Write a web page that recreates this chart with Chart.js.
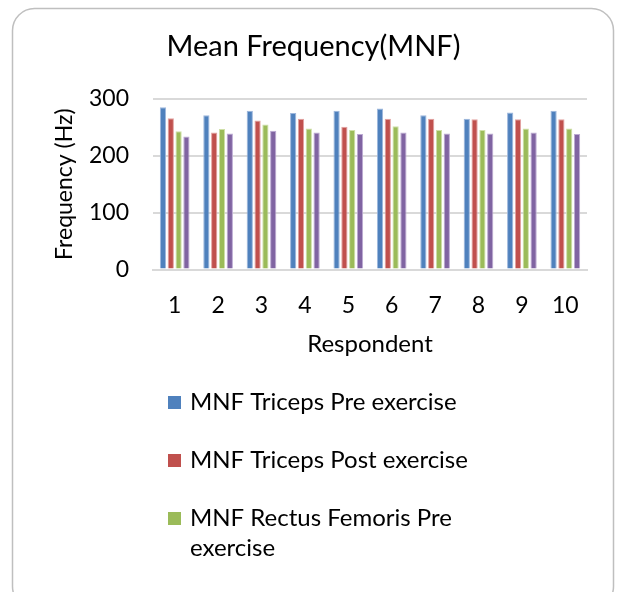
<!DOCTYPE html>
<html>
<head>
<meta charset="utf-8">
<script src="https://cdn.jsdelivr.net/npm/chart.js@4"></script>
<style>
  html, body { margin: 0; padding: 0; background: #fff; }
  #wrap { width: 619px; height: 592px; }
</style>
</head>
<body>
<div id="wrap"><canvas id="myChart" width="619" height="592"></canvas></div>
<script>
const respondents = ['1', '2', '3', '4', '5', '6', '7', '8', '9', '10'];
const tricepsPre = [285, 271, 279, 275, 279, 283, 271, 265, 276, 279];
const tricepsPost = [266, 241, 262, 265, 251, 265, 265, 264, 264, 264];
const rectusPre = [243, 247, 255, 248, 245, 252, 245, 245, 248, 248];
const rectusPost = [234, 239, 244, 241, 238, 241, 239, 239, 241, 238];
const yTicks = [0, 100, 200, 300];

const fontName = 'Lato, "Open Sans", sans-serif';

// rounded frame behind everything
const framePlugin = {
    id: 'frame',
    beforeDraw(chart) {
        const ctx = chart.ctx;
        ctx.save();
        ctx.fillStyle = '#fff';
        ctx.fillRect(0, 0, chart.width, chart.height);
        ctx.strokeStyle = '#bfbfbf';
        ctx.lineWidth = 1.5;
        ctx.beginPath();
        ctx.roundRect(12.5, 8.5, 601, 600, 22);
        ctx.stroke();
        ctx.restore();
    }
};

// legend under the chart, wraps long labels like the original
const legendPlugin = {
    id: 'wrapLegend',
    afterDraw(chart) {
        const ctx = chart.ctx;
        ctx.save();
        ctx.font = '24px ' + fontName;
        ctx.textBaseline = 'middle';
        let y = 402;
        const maxW = 300;
        chart.data.datasets.forEach(ds => {
            const words = ds.label.split(' ');
            const lines = [];
            let line = '';
            words.forEach(w => {
                const t = line ? line + ' ' + w : w;
                if (ctx.measureText(t).width > maxW && line) {
                    lines.push(line);
                    line = w;
                } else {
                    line = t;
                }
            });
            lines.push(line);
            ctx.fillStyle = ds.backgroundColor;
            ctx.fillRect(168, y - 6, 13, 13);
            ctx.fillStyle = '#000';
            lines.forEach((l, i) => ctx.fillText(l, 190, y + i * 30));
            y += 58 + (lines.length - 1) * 30;
        });
        ctx.restore();
    }
};

const ctx = document.getElementById('myChart').getContext('2d');
const myChart = new Chart(ctx, {
    type: 'bar',
    data: {
        labels: respondents,
        datasets: [
            { label: 'MNF Triceps Pre exercise', backgroundColor: '#4F81BD', borderColor: '#9db7dd', data: tricepsPre },
            { label: 'MNF Triceps Post exercise', backgroundColor: '#C0504D', borderColor: '#e3a3a1', data: tricepsPost },
            { label: 'MNF Rectus Femoris Pre exercise', backgroundColor: '#9BBB59', borderColor: '#cfe0a8', data: rectusPre },
            { label: 'MNF Rectus Femoris Post exercise', backgroundColor: '#8064A2', borderColor: '#bcaad3', data: rectusPost }
        ]
    },
    options: {
        responsive: false,
        animation: false,
        datasets: {
            bar: { categoryPercentage: 0.72, barPercentage: 0.8, borderWidth: 1 }
        },
        layout: { padding: { left: 40, right: 32, top: 13, bottom: 233 } },
        plugins: {
            legend: { display: false },
            tooltip: { enabled: false },
            title: {
                display: true,
                text: 'Mean Frequency(MNF)',
                color: '#000',
                font: { family: fontName, size: 29, weight: 'normal' },
                padding: { top: 16, bottom: 35 }
            }
        },
        scales: {
            x: {
                grid: { display: false },
                border: { color: '#d9d9d9', width: 2 },
                ticks: { color: '#000', font: { family: fontName, size: 23 }, padding: 14 },
                title: {
                    display: true,
                    text: 'Respondent',
                    color: '#000',
                    font: { family: fontName, size: 24 },
                    padding: { top: -3, bottom: 0 }
                }
            },
            y: {
                min: 0,
                max: 300,
                afterBuildTicks(axis) { axis.ticks = yTicks.map(v => ({ value: v })); },
                grid: { color: '#d9d9d9', lineWidth: 2, drawTicks: false },
                border: { display: false },
                ticks: { color: '#000', font: { family: fontName, size: 23 }, padding: 24 },
                title: {
                    display: true,
                    text: 'Frequency (Hz)',
                    color: '#000',
                    font: { family: fontName, size: 23 },
                    padding: { top: 11 }
                },
                afterFit(axis) { axis.width = 113; }
            }
        }
    },
    plugins: [framePlugin, legendPlugin]
});
</script>
</body>
</html>
